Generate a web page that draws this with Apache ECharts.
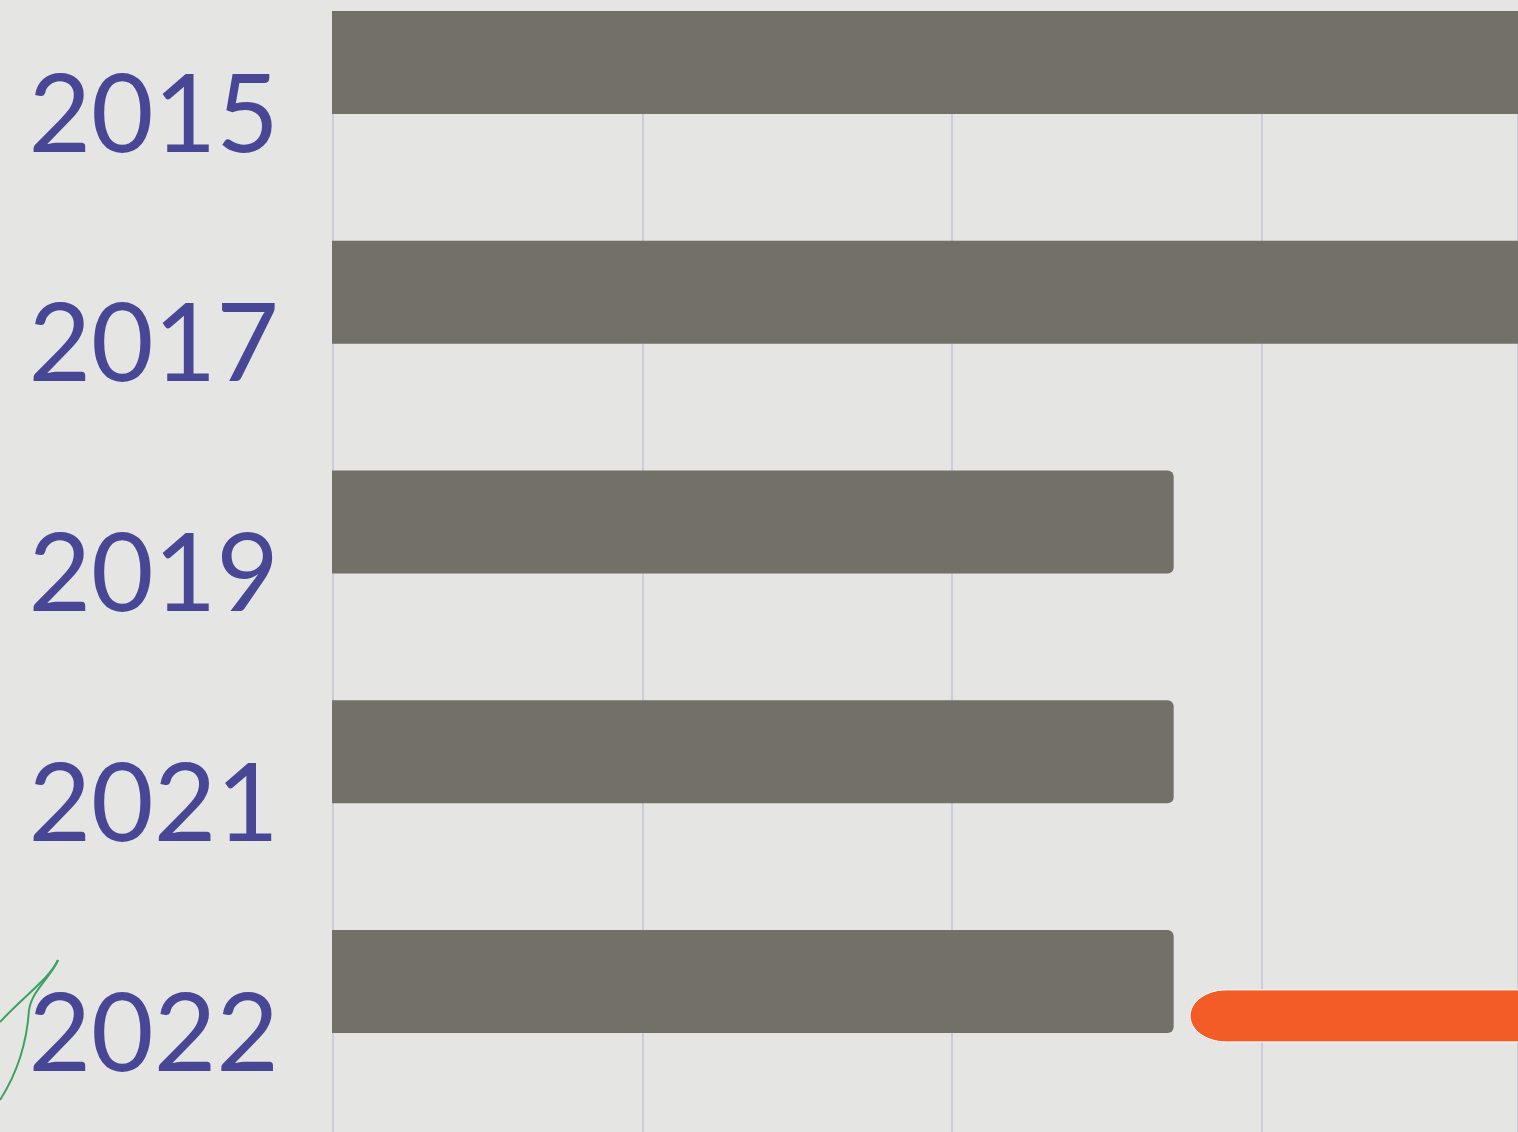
<!DOCTYPE html>
<html>
<head>
<meta charset="utf-8">
<title>chart</title>
<style>
html,body{margin:0;padding:0;background:#e5e5e3;}
#main{width:1518px;height:1132px;}
</style>
<script src="https://cdn.jsdelivr.net/npm/echarts@6/dist/echarts.min.js"></script>
</head>
<body>
<div id="main"></div>
<script>
var years = ['2015', '2017', '2019', '2021', '2022'];
// the first two bars run off the right edge, their real end is a guess
var barValues = [45, 45, 27.15, 27.15, 27.15];
// second slot of each band stays empty, the labels sit centred under the bars because of it
var emptyValues = [null, null, null, null, null];
var pillRow = [4];
var pillStart = [27.68];
var pillEnd = [45];
var xTicks = [0, 10, 20, 30];

var axisMax = 38.258;
// little green leaf at the bottom left, just decoration
var leafCurves = [
	{x1: 58, y1: 960, cpx1: 50, cpy1: 978, cpx2: 24, cpy2: 996, x2: 0, y2: 1022},
	{x1: 58, y1: 960, cpx1: 52, cpy1: 976, cpx2: 32, cpy2: 990, x2: 29, y2: 1010},
	{x1: 29, y1: 1010, cpx1: 27, cpy1: 1040, cpx2: 18, cpy2: 1072, x2: 0, y2: 1100}
];

var myChart = echarts.init(document.getElementById('main'));

var option = {
	backgroundColor: '#e5e5e3',
	animation: false,
	grid: [
		// grid for the vertical lines only
		{left: 332.5, right: 0, top: 11, bottom: 0, outerBoundsMode: 'none'},
		// grid for the bars, one band is 229.75 high
		{left: 332, right: 0, top: 2, height: 1148.75, outerBoundsMode: 'none'}
	],
	xAxis: [
		{
			gridIndex: 0, type: 'value', min: 0, max: axisMax, interval: xTicks[1] - xTicks[0],
			axisLine: {show: false}, axisTick: {show: false}, axisLabel: {show: false},
			splitLine: {show: true, lineStyle: {color: '#c3c4d8', width: 1.5}}
		},
		{
			gridIndex: 1, type: 'value', min: 0, max: axisMax, interval: xTicks[1] - xTicks[0],
			axisLine: {show: false}, axisTick: {show: false}, axisLabel: {show: false},
			splitLine: {show: false}
		}
	],
	yAxis: [
		{
			gridIndex: 0, type: 'value', min: 0, max: 1,
			axisLine: {show: false}, axisTick: {show: false}, axisLabel: {show: false},
			splitLine: {show: false}
		},
		{
			gridIndex: 1, type: 'category', inverse: true, data: years,
			axisLine: {show: false}, axisTick: {show: false}, splitLine: {show: false},
			axisLabel: {
				margin: 53,
				color: '#484796',
				fontFamily: 'Lato',
				fontSize: 108
			}
		}
	],
	graphic: leafCurves.map(function(c) {
		return {
			type: 'bezierCurve',
			z: -1,
			shape: c,
			style: {fill: 'none', stroke: '#3aa35f', lineWidth: 2}
		};
	}),
	series: [
		{
			type: 'bar',
			xAxisIndex: 1,
			yAxisIndex: 1,
			data: barValues,
			barWidth: 103,
			barGap: '5.6%',
			clip: false,
			itemStyle: {color: '#737068', borderRadius: [0, 6, 6, 0]}
		},
		{
			type: 'bar',
			xAxisIndex: 1,
			yAxisIndex: 1,
			data: emptyValues,
			barWidth: 103
		},
		{
			type: 'custom',
			xAxisIndex: 1,
			yAxisIndex: 1,
			data: pillRow.map(function(r, i) {
				return [pillStart[i], pillEnd[i], r];
			}),
			encode: {x: [0, 1], y: 2},
			renderItem: function(params, api) {
				var a = api.coord([api.value(0), api.value(2)]);
				var b = api.coord([api.value(1), api.value(2)]);
				var x = a[0], y = a[1] - 46, h = 52, w = b[0] - a[0];
				// left end is wider than it is high, so not a plain rounded rect
				var d = 'M' + (x + 36) + ' ' + y +
					'L' + (x + w) + ' ' + y +
					'L' + (x + w) + ' ' + (y + h) +
					'L' + (x + 36) + ' ' + (y + h) +
					'C' + (x + 16) + ' ' + (y + h) + ' ' + x + ' ' + (y + h - 12) + ' ' + x + ' ' + (y + h / 2) +
					'C' + x + ' ' + (y + 12) + ' ' + (x + 16) + ' ' + y + ' ' + (x + 36) + ' ' + y + 'Z';
				return {
					type: 'path',
					shape: {pathData: d, x: x, y: y, width: w, height: h, layout: 'cover'},
					style: {fill: '#f35c26', stroke: '#ffffff', lineWidth: 1}
				};
			}
		}
	]
};
myChart.setOption(option);
</script>
</body>
</html>
